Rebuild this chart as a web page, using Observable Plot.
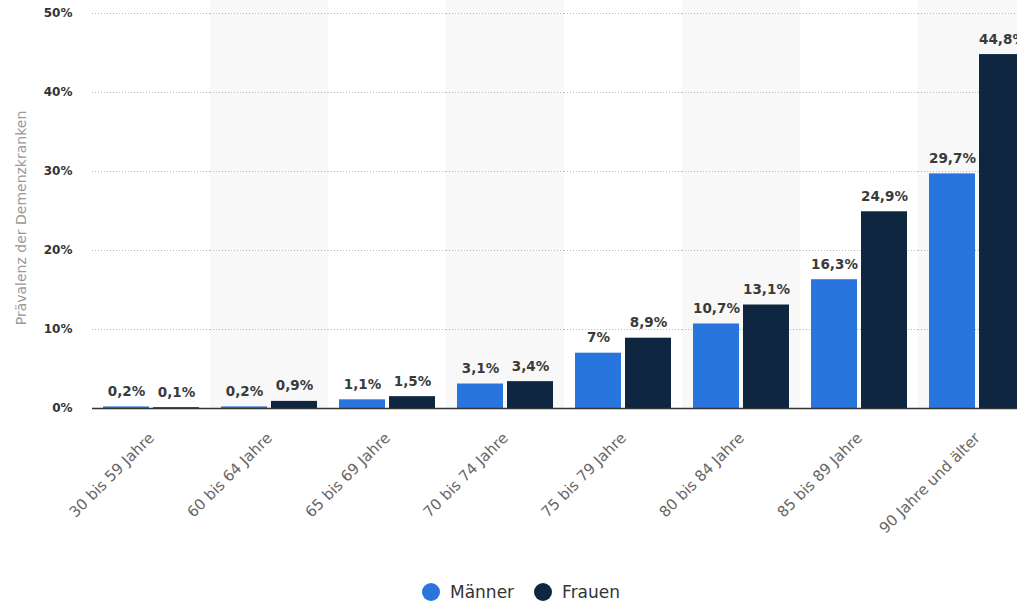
<!DOCTYPE html>
<html>
<head>
<meta charset="utf-8">
<script src="https://cdn.jsdelivr.net/npm/d3@7"></script>
<script src="https://cdn.jsdelivr.net/npm/@observablehq/plot@0.6"></script>
<style>
  html, body { margin: 0; padding: 0; background: #fff; overflow: hidden; width: 1017px; height: 603px; }
  #wrap { position: relative; width: 1017px; height: 603px; overflow: hidden; }
  #chart svg { display: block; max-width: none !important; }
  #ylabel { position: absolute; left: 21px; top: 218px; transform: translate(-50%, -50%) rotate(-90deg); font: 14px "DejaVu Sans", sans-serif; color: #999; white-space: nowrap; }
  #legend { position: absolute; left: 422px; top: 581px; display: flex; gap: 20px; font: 17px "DejaVu Sans", sans-serif; color: #333; line-height: 22px; }
  #legend span.item { display: inline-flex; align-items: center; gap: 10px; }
  #legend span.dot { width: 18px; height: 18px; border-radius: 50%; display: inline-block; }
</style>
</head>
<body>
<div id="wrap">
  <div id="chart"></div>
  <div id="ylabel"></div>
  <div id="legend"></div>
</div>
<script>
const ageGroups = ["30 bis 59 Jahre", "60 bis 64 Jahre", "65 bis 69 Jahre", "70 bis 74 Jahre", "75 bis 79 Jahre", "80 bis 84 Jahre", "85 bis 89 Jahre", "90 Jahre und älter"];
const maenner = [0.2, 0.2, 1.1, 3.1, 7, 10.7, 16.3, 29.7];
const frauen = [0.1, 0.9, 1.5, 3.4, 8.9, 13.1, 24.9, 44.8];
const series = ["Männer", "Frauen"];
const seriesColors = ["#2876dd", "#0f2640"];
const yTicks = [0, 10, 20, 30, 40, 50];
const yLabel = "Prävalenz der Demenzkranken";

const shaded = ageGroups.filter((d, i) => i % 2 === 1);
const data = ageGroups.flatMap((g, i) => [
  {group: g, sex: series[0], value: maenner[i]},
  {group: g, sex: series[1], value: frauen[i]}
]);
const fmt = v => String(v).replace(".", ",") + "%";

const chart = Plot.plot({
  width: 1036,
  height: 560,
  marginLeft: 92,
  marginRight: 0,
  marginTop: 13,
  marginBottom: 152,
  style: {fontFamily: "'DejaVu Sans', sans-serif", background: "transparent"},
  fx: {domain: ageGroups, paddingInner: 0, paddingOuter: 0, label: null, axis: null},
  x: {domain: series, paddingInner: 0.08, paddingOuter: 0.217, axis: null},
  y: {domain: [0, 50], axis: null},
  color: {domain: series, range: seriesColors},
  marks: [
    Plot.barY(shaded, {fx: d => d, y1: 0, y2: 50, fill: "#f8f8f8", insetTop: -13}),
    Plot.gridY({ticks: yTicks.slice(1), stroke: "#bbb", strokeOpacity: 1, strokeDasharray: "1,2"}),
    Plot.barY(data, {fx: "group", x: "sex", y: "value", fill: "sex"}),
    Plot.ruleY([0], {stroke: "#333", strokeWidth: 1.5}),
    Plot.text(data, {fx: "group", x: "sex", y: "value", text: d => fmt(d.value), lineAnchor: "bottom", dy: -11, fontSize: 13.5, fontWeight: "bold", fill: "#3a3a3a"}),
    Plot.axisY({ticks: yTicks, tickFormat: d => d + "%", tickSize: 0, tickPadding: 20, fontSize: 12, fontWeight: "bold", fill: "#333", label: null}),
    Plot.axisFx({anchor: "bottom", tickRotate: -45, tickSize: 0, tickPadding: 27, fontSize: 15, fill: "#666", label: null})
  ]
});
chart.style.maxWidth = "none";
document.getElementById("chart").appendChild(chart);
document.getElementById("ylabel").textContent = yLabel;

const legend = document.getElementById("legend");
series.forEach((s, i) => {
  const item = document.createElement("span");
  item.className = "item";
  const dot = document.createElement("span");
  dot.className = "dot";
  dot.style.background = seriesColors[i];
  const t = document.createElement("span");
  t.textContent = s;
  item.appendChild(dot);
  item.appendChild(t);
  legend.appendChild(item);
});
</script>
</body>
</html>
